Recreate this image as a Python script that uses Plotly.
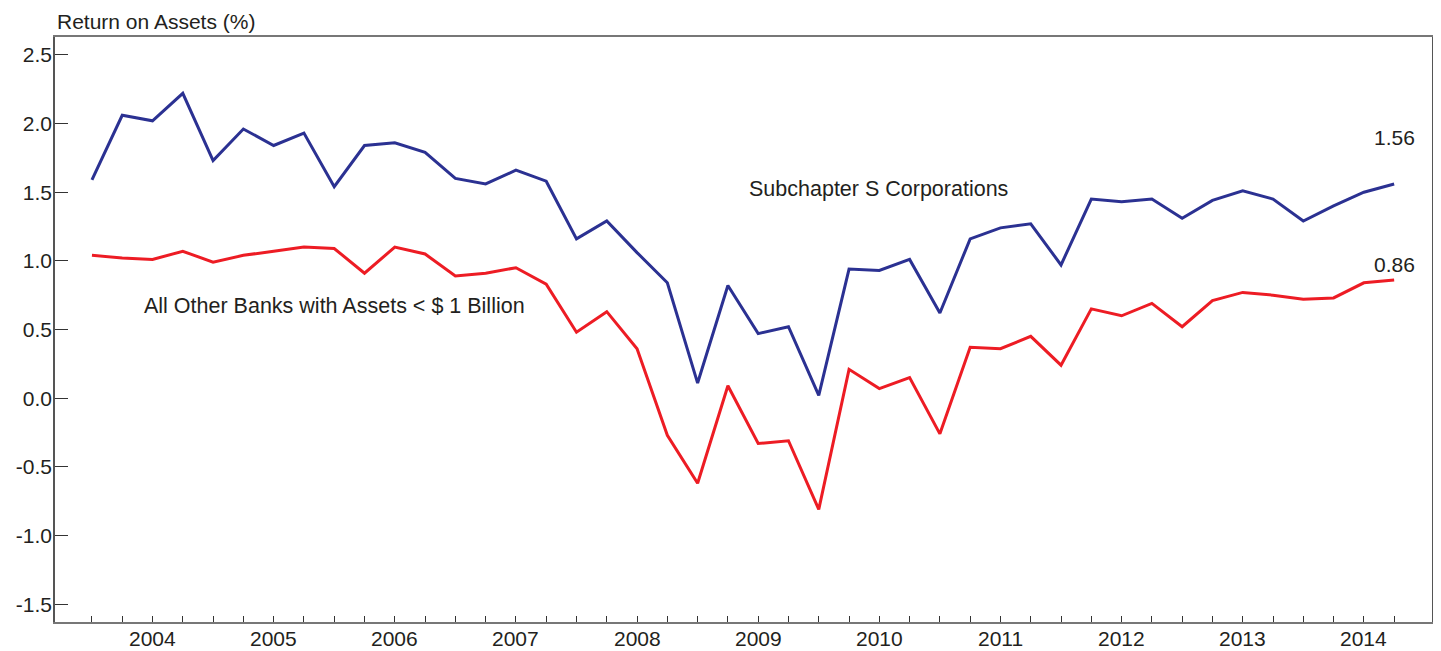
import plotly.graph_objects as go

# quarterly, 2003Q4 .. 2014Q3
quarters = [f"{y}Q{q}" for y in range(2003, 2015) for q in range(1, 5)][3:47]
years = [str(y) for y in range(2004, 2015)]

subchapter_s = [
    1.59, 2.06, 2.02, 2.22, 1.73, 1.96, 1.84, 1.93, 1.54, 1.84, 1.86, 1.79,
    1.60, 1.56, 1.66, 1.58, 1.16, 1.29, 1.06, 0.84, 0.11, 0.82, 0.47, 0.52,
    0.02, 0.94, 0.93, 1.01, 0.62, 1.16, 1.24, 1.27, 0.97, 1.45, 1.43, 1.45,
    1.31, 1.44, 1.51, 1.45, 1.29, 1.40, 1.50, 1.56,
]
other_banks = [
    1.04, 1.02, 1.01, 1.07, 0.99, 1.04, 1.07, 1.10, 1.09, 0.91, 1.10, 1.05,
    0.89, 0.91, 0.95, 0.83, 0.48, 0.63, 0.36, -0.27, -0.62, 0.09, -0.33, -0.31,
    -0.81, 0.21, 0.07, 0.15, -0.26, 0.37, 0.36, 0.45, 0.24, 0.65, 0.60, 0.69,
    0.52, 0.71, 0.77, 0.75, 0.72, 0.73, 0.84, 0.86,
]
y_ticks = [-1.5, -1.0, -0.5, 0.0, 0.5, 1.0, 1.5, 2.0, 2.5]

BLUE = "#2b3192"
RED = "#ed1c24"
TEXT = "#231f20"
FONT = "Liberation Sans, Arial, sans-serif"

x = list(range(len(quarters)))

fig = go.Figure()
fig.add_trace(go.Scatter(
    x=x, y=subchapter_s, mode="lines", name="Subchapter S Corporations",
    line=dict(color=BLUE, width=3), customdata=quarters,
    hovertemplate="%{customdata}: %{y:.2f}<extra></extra>",
))
fig.add_trace(go.Scatter(
    x=x, y=other_banks, mode="lines", name="All Other Banks",
    line=dict(color=RED, width=3), customdata=quarters,
    hovertemplate="%{customdata}: %{y:.2f}<extra></extra>",
))

annotations = [
    dict(text="Return on Assets (%)", xref="paper", yref="paper", x=0, y=1,
         xanchor="left", yanchor="bottom", yshift=2, showarrow=False),
    dict(text="Subchapter S Corporations", x=25.96, y=1.52, showarrow=False,
         font=dict(size=21.5)),
    dict(text="All Other Banks with Assets < $ 1 Billion", x=8.0, y=0.67,
         showarrow=False, font=dict(size=21.5)),
    dict(text=f"{subchapter_s[-1]:.2f}", x=x[-1], y=subchapter_s[-1],
         yshift=46, showarrow=False),
    dict(text=f"{other_banks[-1]:.2f}", x=x[-1], y=other_banks[-1],
         yshift=16, showarrow=False),
]
for i, yr in enumerate(years):
    annotations.append(dict(text=yr, x=2 + 4 * i, xref="x", yref="paper", y=0,
                            yanchor="top", yshift=-3, showarrow=False))

# page body adds an 8px offset, so the figure is drawn 8px smaller
fig.update_layout(
    width=1433, height=643,
    margin=dict(l=47, r=9, t=29, b=29, autoexpand=False),
    paper_bgcolor="white", plot_bgcolor="white",
    showlegend=False,
    font=dict(family=FONT, size=21, color=TEXT),
    annotations=annotations,
    xaxis=dict(
        range=[-1.22, 44.25], showgrid=False, zeroline=False, automargin=False,
        showline=True, linecolor="#777", linewidth=2, mirror=True,
        tickvals=list(range(0, 44, 4)), ticktext=[""] * 11,
        ticks="inside", ticklen=11, tickcolor="#333", tickwidth=1,
        minor=dict(tickvals=x, ticks="inside", ticklen=6,
                   tickcolor="#333", tickwidth=1),
    ),
    yaxis=dict(
        range=[-1.63, 2.63], showgrid=False, zeroline=False, automargin=False,
        showline=True, linecolor="#555", linewidth=1.5, mirror=True,
        tickvals=y_ticks, ticktext=[f"{v:.1f}" for v in y_ticks],
        ticks="inside", ticklen=13, tickcolor="#333", tickwidth=1,
        ticklabelstandoff=-3,
        tickfont=dict(size=21, color=TEXT),
    ),
)

fig.write_html("out.html")
